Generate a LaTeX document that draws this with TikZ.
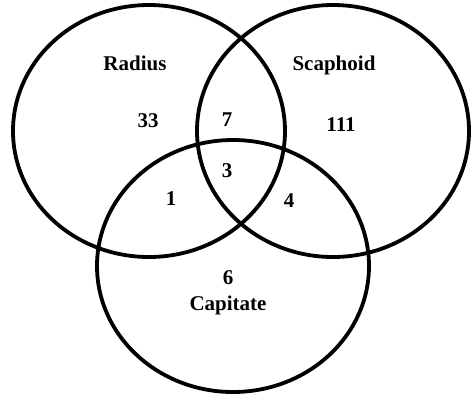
\documentclass[tikz,border=0pt]{standalone}
\usepackage{fontspec}
\setmainfont{Liberation Serif}
\usetikzlibrary{shapes.geometric}

\begin{document}
\begin{tikzpicture}[
  x=1pt, y=-1pt,
  ring/.style={draw, line width=3.8pt, ellipse, minimum width=272pt, minimum height=252pt, inner sep=0pt},
  lbl/.style={font=\fontsize{21}{24}\selectfont\bfseries, anchor=base, inner sep=0pt}
]
  \useasboundingbox (0,0) rectangle (471,397);

  % Sets
  \node[ring] (radius) at (149,131) {};
  \node[ring] (scaphoid) at (333,131) {};
  \node[ring] (capitate) at (233,266) {};

  % Set names
  \node[lbl] (radiusname) at (135,70) {Radius};
  \node[lbl] (scaphoidname) at (334,70) {Scaphoid};
  \node[lbl] (capitatename) at (228,310) {Capitate};

  % Counts
  \node[lbl] (onlyr) at (148,127) {33};
  \node[lbl] (rs) at (227,126) {7};
  \node[lbl] (onlys) at (341,131) {111};
  \node[lbl] (rsc) at (227,177) {3};
  \node[lbl] (rc) at (171,205) {1};
  \node[lbl] (sc) at (289,207) {4};
  \node[lbl] (onlyc) at (228,284) {6};
\end{tikzpicture}
\end{document}
